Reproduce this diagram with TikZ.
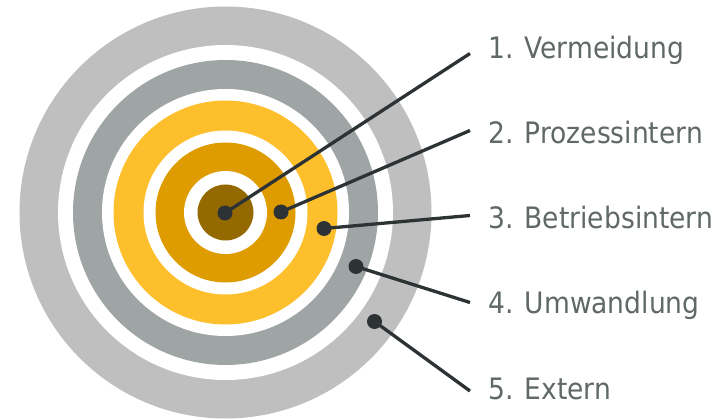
\documentclass[tikz,border=0pt]{standalone}
\usepackage{fontspec}
\setmainfont{DejaVu Sans Condensed}
\begin{document}
\definecolor{ringlight}{HTML}{BFBFBF}
\definecolor{ringgray}{HTML}{9FA5A5}
\definecolor{ringyellow}{HTML}{FEBF2C}
\definecolor{ringamber}{HTML}{DE9C00}
\definecolor{ringbrown}{HTML}{946900}
\definecolor{pin}{HTML}{2D3234}
\definecolor{labeltext}{HTML}{606868}
\begin{tikzpicture}[x=1pt,y=-1pt,
  ring/.style={circle,inner sep=0pt,outer sep=0pt,minimum size=#1},
  pindot/.style={circle,fill=pin,inner sep=0pt,minimum size=15pt},
  pinline/.style={draw=pin,line width=3.3pt},
  tag/.style={anchor=base west,inner sep=0pt,text=labeltext,font=\fontsize{29.5}{30}\selectfont}]
\useasboundingbox (0,0) rectangle (719,419);
% concentric target rings, outermost first
\coordinate (c) at (225.5,212.5);
\fill[ringlight]  (c) circle[radius=206];
\fill[white]      (c) circle[radius=167.5];
\fill[ringgray]   (c) circle[radius=152.5];
\fill[white]      (c) circle[radius=123.5];
\fill[ringyellow] (c) circle[radius=112];
\fill[white]      (c) circle[radius=82];
\fill[ringamber]  (c) circle[radius=70];
\fill[white]      (c) circle[radius=41.5];
\fill[ringbrown]  (c) circle[radius=28];
% pin dots
\node[pindot] (d1) at (225,213) {};
\node[pindot] (d2) at (281,212) {};
\node[pindot] (d3) at (324,228.5) {};
\node[pindot] (d4) at (356,266.5) {};
\node[pindot] (d5) at (374.5,321.5) {};
% line ends
\coordinate (e1) at (470,53.5);
\coordinate (e2) at (470,130.5);
\coordinate (e3) at (470,215.5);
\coordinate (e4) at (470,302.5);
\coordinate (e5) at (470,391);
% labels
\node[tag] (t1) at (488,58.5) {1. Vermeidung};
\node[tag] (t2) at (488,143.3) {2. Prozessintern};
\node[tag] (t3) at (488,228.8) {3. Betriebsintern};
\node[tag] (t4) at (488,313.6) {4. Umwandlung};
\node[tag] (t5) at (488,399.2) {5. Extern};
% connectors
\foreach \i in {1,...,5} \draw[pinline] (d\i.center) -- (e\i);
\end{tikzpicture}
\end{document}
